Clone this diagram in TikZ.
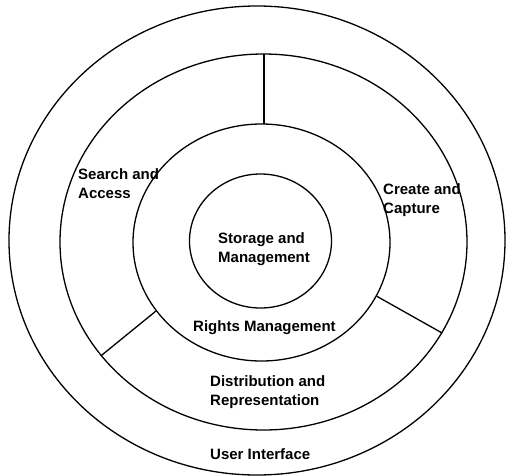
\documentclass[tikz,border=0pt]{standalone}
\usepackage{fontspec}
\setmainfont{Liberation Sans}
\usetikzlibrary{shapes.geometric}
\begin{document}
\begin{tikzpicture}[x=1pt,y=-1pt,
  ring/.style={draw=black, line width=1.3pt, ellipse, inner sep=0pt, minimum width=#1},
  divider/.style={draw=black, line width=1.3pt},
  lbl/.style={inner sep=0pt, align=left, anchor=base west, font=\fontsize{15}{18.5}\selectfont\bfseries}]
\useasboundingbox (0,0) rectangle (507,475);
\node[ring=496pt, minimum height=469pt] (outer) at (257,240.5) {};
\node[ring=407pt, minimum height=376pt] (ring2) at (263.5,242) {};
\node[ring=257pt, minimum height=237pt] (ring3) at (261.5,242.5) {};
\node[ring=142pt, minimum height=134pt] (core) at (260.5,241) {};
\coordinate (topA) at (264,54);
\coordinate (topB) at (264,124);
\draw[divider] (topA) -- (topB);
\draw[divider] (ring3.213.75) -- (ring2.215.6);
\draw[divider] (ring3.-25) -- (ring2.-27.5);
\node[lbl] (search) at (78,198) {Search and\\Access};
\node[lbl] (create) at (383,213) {Create and\\Capture};
\node[lbl] (storage) at (218,262) {Storage and\\Management};
\node[lbl] (rights) at (193,331) {Rights Management};
\node[lbl] (dist) at (210,405) {Distribution and\\Representation};
\node[lbl] (ui) at (210,459) {User Interface};
\end{tikzpicture}
\end{document}
